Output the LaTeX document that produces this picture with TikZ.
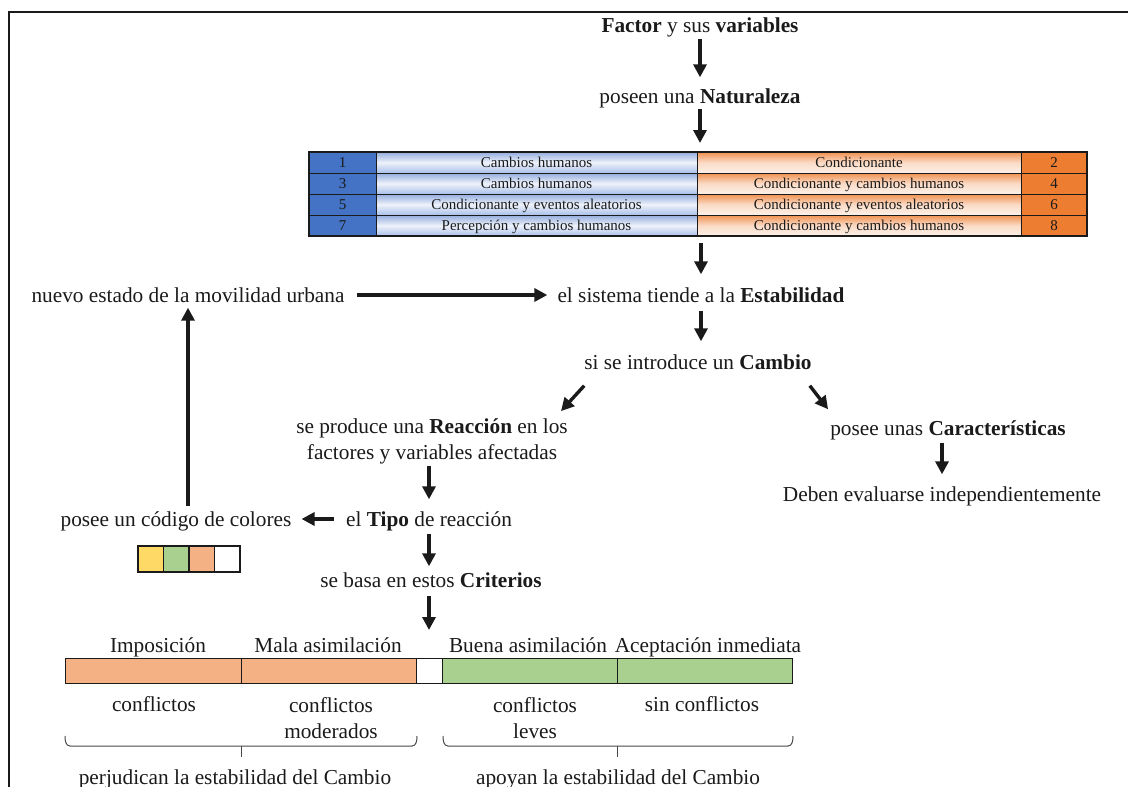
\documentclass[tikz,border=0pt]{standalone}
\usepackage{fontspec}
\setmainfont{Liberation Serif}
\usetikzlibrary{arrows.meta,fit}

\definecolor{ink}{HTML}{1A1A1A}
\definecolor{numblue}{HTML}{4472C4}
\definecolor{blueA}{HTML}{93ACDD}
\definecolor{blueB}{HTML}{EEF2FA}
\definecolor{blueC}{HTML}{A9C0EA}
\definecolor{numorange}{HTML}{ED7D31}
\definecolor{orA}{HTML}{F0914F}
\definecolor{orB}{HTML}{FADBC6}
\definecolor{orC}{HTML}{FDF0E7}
\definecolor{codeyellow}{HTML}{FFD966}
\definecolor{codegreen}{HTML}{A9D08E}
\definecolor{codeorange}{HTML}{F4B183}

\begin{document}
\begin{tikzpicture}[x=1pt,y=-1pt,
  lbl/.style={font=\fontsize{21.3}{26}\selectfont, inner sep=2pt, text height=18pt, text depth=3pt, text=ink},
  lbltwo/.style={font=\fontsize{21.3}{26}\selectfont, inner sep=2pt, align=center, text=ink},
  arr/.style={line width=3.4pt, draw=ink, -{Triangle[length=13pt,width=13pt]}},
  cell/.style={draw=ink, line width=0.8pt, minimum height=21pt, inner sep=0pt, outer sep=0pt,
    text height=10.5pt, text depth=1.5pt, font=\fontsize{15}{16}\selectfont, text=ink},
  numb/.style={cell, fill=numblue, minimum width=67pt},
  txtb/.style={cell, top color=blueA, bottom color=blueC, middle color=blueB, minimum width=321pt},
  txto/.style={cell, top color=orA, bottom color=orC, middle color=orB, minimum width=324pt},
  numo/.style={cell, fill=numorange, minimum width=66pt},
  codebox/.style={draw=ink, line width=1.2pt, minimum width=25.5pt, minimum height=26pt, inner sep=0pt, outer sep=0pt},
  barseg/.style={draw=ink, line width=0.9pt, minimum height=25pt, inner sep=0pt, outer sep=0pt},
  bracket/.style={draw=ink!80, line width=1pt}
]
\useasboundingbox (0,0) rectangle (1128,787);

% frame
\draw[ink, line width=2pt] (9,787) -- (9,12) -- (1128,12);

% main column
\node[lbl] (factor) at (700,25) {\textbf{Factor} y sus \textbf{variables}};
\node[lbl] (nat) at (700,96) {poseen una \textbf{Naturaleza}};

% table of natures
\foreach \r/\y/\na/\ta/\tb/\nb in {
  1/162.5/1/Cambios humanos/Condicionante/2,
  2/183.5/3/Cambios humanos/Condicionante y cambios humanos/4,
  3/204.5/5/Condicionante y eventos aleatorios/Condicionante y eventos aleatorios/6,
  4/225.5/7/Percepción y cambios humanos/Condicionante y cambios humanos/8}{
  \node[numb] (c\r1) at (342.5,\y) {\na};
  \node[txtb] (c\r2) at (536.5,\y) {\ta};
  \node[txto] (c\r3) at (859,\y) {\tb};
  \node[numo] (c\r4) at (1054,\y) {\nb};
}
\node[fit=(c11)(c44), inner sep=0pt, outer sep=0pt] (tab) {};
\draw[ink, line width=1.6pt] (tab.north west) rectangle (tab.south east);

\node[lbl] (estab) at (701,295) {el sistema tiende a la \textbf{Estabilidad}};
\node[lbl] (nuevo) at (188,295) {nuevo estado de la movilidad urbana};
\node[lbl] (cambio) at (698,362) {si se introduce un \textbf{Cambio}};
\node[lbltwo] (reac) at (432,441) {se produce una \textbf{Reacción} en los\\factores y variables afectadas};
\node[lbl] (carac) at (948,428) {posee unas \textbf{Características}};
\node[lbl] (deben) at (942,494) {Deben evaluarse independientemente};
\node[lbl] (tipo) at (429,519) {el \textbf{Tipo} de reacción};
\node[lbl] (codigo) at (176,519) {posee un código de colores};
\node[lbl] (crit) at (431,580) {se basa en estos \textbf{Criterios}};

% colour code
\node[codebox, fill=codeyellow] (k1) at (150.75,559) {};
\node[codebox, fill=codegreen] (k2) at (176.25,559) {};
\node[codebox, fill=codeorange] (k3) at (201.75,559) {};
\node[codebox, fill=white] (k4) at (227.25,559) {};

% criteria bar
\node[barseg, fill=codeorange, minimum width=176pt] (b1) at (153,670.5) {};
\node[barseg, fill=codeorange, minimum width=175pt] (b2) at (328.5,670.5) {};
\node[barseg, fill=white, minimum width=26pt] (b3) at (429,670.5) {};
\node[barseg, fill=codegreen, minimum width=175pt] (b4) at (529.5,670.5) {};
\node[barseg, fill=codegreen, minimum width=175pt] (b5) at (704.5,670.5) {};

\node[lbl] (l1) at (158,645) {Imposición};
\node[lbl] (l2) at (328,645) {Mala asimilación};
\node[lbl] (l3) at (528,645) {Buena asimilación};
\node[lbl] (l4) at (708,645) {Aceptación inmediata};

\node[lbl] (d1) at (154,704) {conflictos};
\node[lbltwo] (d2) at (331,718) {conflictos\\moderados};
\node[lbltwo] (d3) at (535,718) {conflictos\\leves};
\node[lbl] (d4) at (702,704) {sin conflictos};

% brackets grouping the criteria
\draw[bracket] (65,736) to[out=-90,in=180] (70,746) -- (412,746) to[out=0,in=-90] (417,736);
\draw[bracket] (241,746) -- (241,757);
\draw[bracket] (443,736) to[out=-90,in=180] (448,746) -- (788,746) to[out=0,in=-90] (793,736);
\draw[bracket] (617,746) -- (617,757);

\node[lbl] (perj) at (235,777) {perjudican la estabilidad del Cambio};
\node[lbl] (apoy) at (618,777) {apoyan la estabilidad del Cambio};

% connectors
\draw[arr, shorten <=1pt, shorten >=6pt] (factor) -- (nat);
\draw[arr, shorten >=9pt] (nat.south) -- (nat.south |- tab.north);
\draw[arr, shorten <=7pt, shorten >=8pt] (tab.south -| estab.north) -- (estab.north);
\draw[arr, shorten <=3pt, shorten >=8pt] (estab.south) -- (estab.south |- cambio.north);
\draw[arr, shorten <=10pt, shorten >=8pt] (nuevo.east) -- (nuevo.east -| estab.west);
\draw[arr] ([shift={(2,11)}]cambio.south west) -- ([shift={(-9,-5)}]reac.north east);
\draw[arr] ([shift={(-4,11)}]cambio.south east) -- ([shift={(0,-6)}]carac.north west);
\draw[arr, shorten <=2pt, shorten >=7pt] (carac.south -| deben.north) -- (deben.north);
\draw[arr, shorten >=7pt] (reac.south -| tipo.north) -- (tipo.north);
\draw[arr, shorten <=10pt, shorten >=8pt] (tipo.west) -- (tipo.west -| codigo.east);
\draw[arr] (codigo.north -| nuevo.south) -- (nuevo.south);
\draw[arr, shorten <=2pt, shorten >=1pt] (tipo.south) -- (tipo.south |- crit.north);
\draw[arr, shorten <=3pt, shorten >=28pt] (crit.south -| b3.north) -- (b3.north);
\end{tikzpicture}
\end{document}
